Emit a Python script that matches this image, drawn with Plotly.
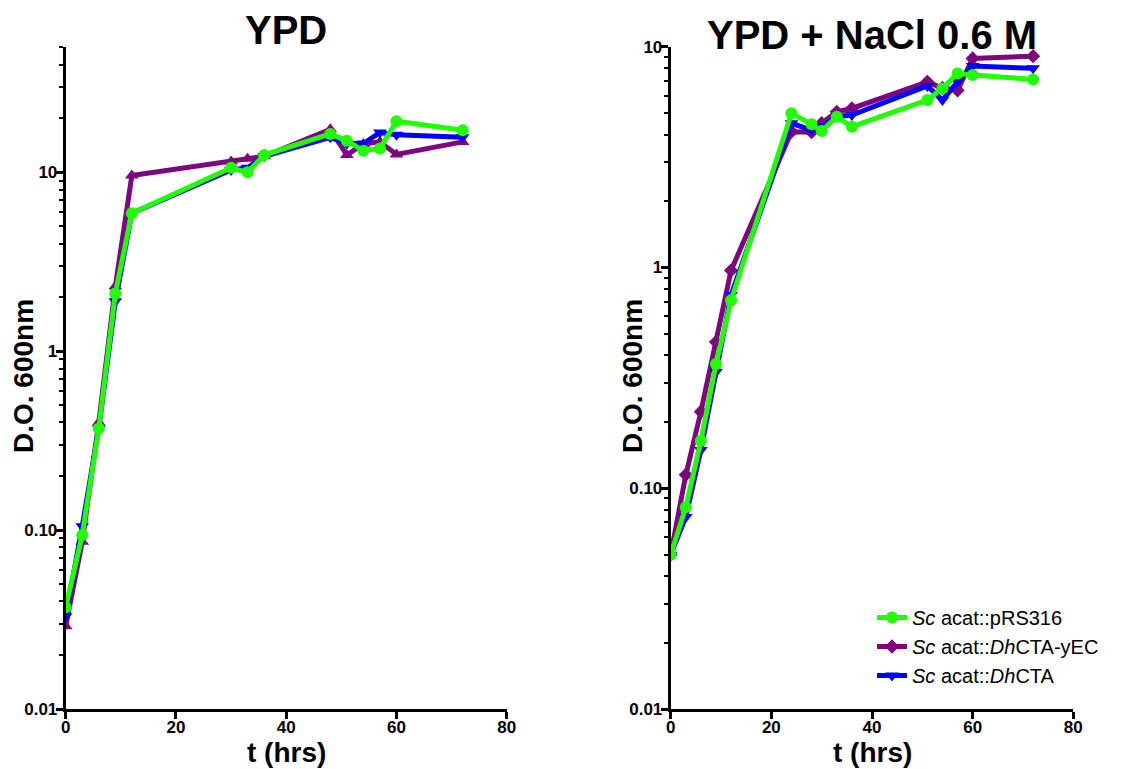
import plotly.graph_objects as go

# ---------------- data ----------------
t_ypd = [0, 3, 6, 9, 12, 30, 33, 36, 48, 51, 54, 57, 60, 72]
ypd_prs316 = [0.037, 0.094, 0.37, 2.1, 5.9, 10.6, 10.0, 12.5, 16.4, 15.0, 13.2, 13.6, 19.3, 17.2]
ypd_cta_yec = [0.029, 0.086, 0.40, 2.3, 9.6, 11.5, 11.9, 12.3, 17.4, 12.5, 14.4, 14.8, 12.6, 14.8]
ypd_cta = [0.033, 0.105, 0.37, 1.9, 5.9, 10.3, 10.6, 12.3, 15.7, 14.5, 14.5, 16.7, 16.2, 15.7]

t_nacl = [0, 3, 6, 9, 12, 24, 28, 30, 33, 36, 51, 54, 57, 60, 72]
nacl_prs316 = [0.050, 0.082, 0.164, 0.365, 0.71, 4.99, 4.45, 4.15, 4.82, 4.34, 5.73, 6.47, 7.57, 7.45, 7.11]
nacl_cta_yec = [0.050, 0.115, 0.222, 0.46, 0.97, 4.12, 4.10, 4.50, 5.07, 5.25, 6.93, 6.50, 6.35, 8.85, 9.06]
nacl_cta = [0.050, 0.074, 0.149, 0.337, 0.75, 4.50, 4.19, 4.35, 4.82, 4.90, 6.64, 5.73, 6.93, 8.17, 7.98]

names = ["<i>Sc</i> acat::pRS316", "<i>Sc</i> acat::<i>Dh</i>CTA-yEC", "<i>Sc</i> acat::<i>Dh</i>CTA"]
colors = ["#22ff00", "#7d067f", "#0000ff"]

y_tickvals = [0.01, 0.1, 1, 10]
y_ticktext = ["0.01", "0.10", "1", "10"]
y_minor = [0.02, 0.03, 0.04, 0.05, 0.06, 0.07, 0.08, 0.09,
           0.2, 0.3, 0.4, 0.5, 0.6, 0.7, 0.8, 0.9,
           2, 3, 4, 5, 6, 7, 8, 9, 20, 30, 40, 50]
x_tickvals = [0, 20, 40, 60, 80]

OFF = 8  # page body margin in the browser
W, H = 1133 - OFF, 769 - OFF
FONT = "Liberation Sans, Arial, sans-serif"

fig = go.Figure()

def add(x, y, name, color, symbol, xa, ya, show, rank):
    fig.add_trace(go.Scatter(
        x=x, y=y, name=name, mode="lines+markers",
        line=dict(color=color, width=5),
        marker=dict(color=color, symbol=symbol, size=12 if symbol != "diamond" else 11),
        xaxis=xa, yaxis=ya, showlegend=show, legendrank=rank,
    ))

# left panel (draw order purple, blue, green)
add(t_ypd, ypd_cta_yec, names[1], colors[1], "triangle-up", "x", "y", False, 2)
add(t_ypd, ypd_cta, names[2], colors[2], "triangle-down", "x", "y", False, 3)
add(t_ypd, ypd_prs316, names[0], colors[0], "circle", "x", "y", False, 1)
# right panel
add(t_nacl, nacl_cta_yec, names[1], colors[1], "diamond", "x2", "y2", True, 2)
add(t_nacl, nacl_cta, names[2], colors[2], "triangle-down", "x2", "y2", True, 3)
add(t_nacl, nacl_prs316, names[0], colors[0], "circle", "x2", "y2", True, 1)

def px_x(p):
    return (p - OFF) / W

def px_y(p):
    return 1 - (p - OFF) / H

xaxis_common = dict(
    range=[0, 80], tickmode="array", tickvals=x_tickvals,
    showline=True, linecolor="black", linewidth=3,
    ticks="outside", ticklen=7, tickwidth=3, tickcolor="black",
    showgrid=False, zeroline=False, automargin=False, ticklabelstandoff=-6,
    tickfont=dict(family=FONT, size=17, color="black", weight="bold"),
)
yaxis_common = dict(
    type="log", tickmode="array", tickvals=y_tickvals, ticktext=y_ticktext,
    showline=True, linecolor="black", linewidth=3,
    ticks="outside", ticklen=7, tickwidth=3, tickcolor="black",
    minor=dict(tickmode="array", tickvals=y_minor, ticks="outside", ticklen=4, tickwidth=2, tickcolor="black", showgrid=False),
    showgrid=False, zeroline=False, automargin=False, ticklabelstandoff=-5,
    tickfont=dict(family=FONT, size=17, color="black", weight="bold"),
)

def ann(text, x, y, size, angle=0):
    return dict(text=text, x=px_x(x), y=px_y(y), xref="paper", yref="paper",
                showarrow=False, textangle=angle,
                font=dict(family=FONT, size=size, color="black"),
                xanchor="center", yanchor="middle")

fig.update_layout(
    width=W, height=H,
    margin=dict(l=0, r=0, t=0, b=0),
    paper_bgcolor="white", plot_bgcolor="white",
    xaxis=dict(domain=[px_x(65.7), px_x(506.7)], anchor="y", **xaxis_common),
    yaxis=dict(domain=[px_y(709), px_y(47.3)], anchor="x", range=[-2, 1.69897], **yaxis_common),
    xaxis2=dict(domain=[px_x(670.7), px_x(1073.3)], anchor="y2", **xaxis_common),
    yaxis2=dict(domain=[px_y(709), px_y(46.7)], anchor="x2", range=[-2, 1], **yaxis_common),
    legend=dict(x=px_x(872), y=px_y(598), xanchor="left", yanchor="top",
                font=dict(family=FONT, size=20, color="black"),
                bgcolor="rgba(0,0,0,0)", tracegroupgap=0, itemwidth=30),
    showlegend=True,
    annotations=[
        ann("<b>YPD</b>", 286, 30, 40),
        ann("<b>YPD + NaCl 0.6 M</b>", 872, 35, 40),
        ann("<b>t (hrs)</b>", 286, 752, 28),
        ann("<b>t (hrs)</b>", 872, 752, 28),
        ann("<b>D.O. 600nm</b>", 23, 376, 28, -90),
        ann("<b>D.O. 600nm</b>", 632, 376, 28, -90),
    ],
)

fig.write_html("out.html")
